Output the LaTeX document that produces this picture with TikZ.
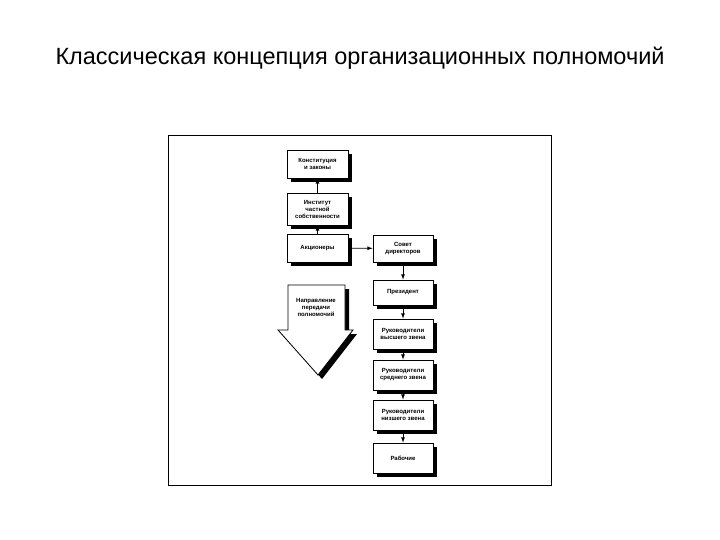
\documentclass[tikz,border=0pt]{standalone}
\usepackage{fontspec}
\setmainfont{Liberation Sans}
\begin{document}
\begin{tikzpicture}[x=1pt,y=-1pt,
 bx/.style={draw,line width=0.8pt,fill=white,align=center,font=\fontsize{6}{7}\selectfont\bfseries,inner sep=0pt},
 ar/.style={-latex,line width=0.8pt}]
\useasboundingbox (0,0) rectangle (720,540);
\node (title) at (360,58) {\fontsize{23.5}{27}\selectfont Классическая концепция организационных полномочий};
\draw[line width=0.8pt] (168,135) rectangle (551,485);
\newcommand{\bxat}[6]{%
 \fill (#2+4,#3+4) rectangle (#4+4,#5+4);
 \node[bx,minimum width=#4-#2,minimum height=#5-#3] (#1) at ({(#2+#4)/2},{(#3+#5)/2}) {#6};}
\bxat{k}{287}{150}{348}{178}{Конституция\\и законы}
\bxat{i}{287}{193}{348}{225}{Институт\\частной\\собственности}
\bxat{a}{287}{234}{348}{262}{Акционеры}
\bxat{s}{373}{235}{433}{262}{Совет\\директоров}
\bxat{p}{373}{280}{433}{305}{Президент}
\bxat{v}{373}{319}{433}{349}{Руководители\\высшего звена}
\bxat{m}{373}{360}{433}{390}{Руководители\\среднего звена}
\bxat{n}{373}{400}{433}{430}{Руководители\\низшего звена}
\bxat{r}{373}{443}{433}{473}{Рабочие}
\draw[ar] (i) -- (k);
\draw[ar] (a) -- (i);
\draw[ar] (a) -- (s);
\draw[ar] (s) -- (p);
\draw[ar] (p) -- (v);
\draw[ar] (v) -- (m);
\draw[ar] (m) -- (n);
\draw[ar] (n) -- (r);
\fill (292,289) -- (349,289) -- (349,334) -- (357,334) -- (322,379) -- (282,334) -- (292,334) -- cycle;
\draw[line width=0.8pt,fill=white] (288,285) -- (345,285) -- (345,330) -- (353,330) -- (318,375) -- (278,330) -- (288,330) -- cycle;
\node[font=\fontsize{6}{7}\selectfont\bfseries,align=center] (dir) at (316,307) {Направление\\передачи\\полномочий};
\end{tikzpicture}
\end{document}
